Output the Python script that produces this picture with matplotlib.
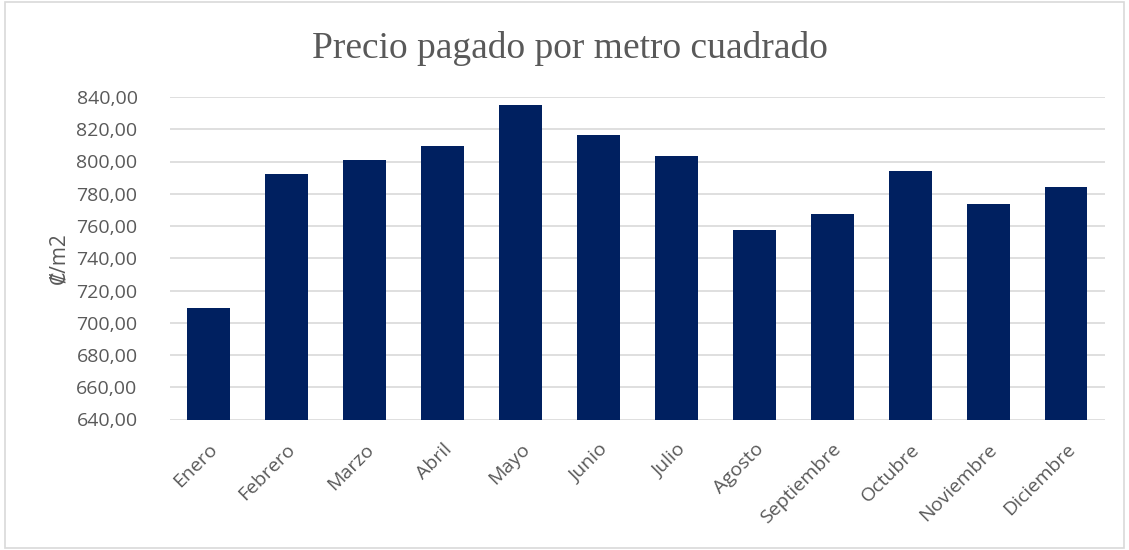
import matplotlib
matplotlib.use("Agg")
import matplotlib.pyplot as plt
from matplotlib.ticker import FuncFormatter
from matplotlib.patches import Rectangle

# Datos del grafico
meses = ['Enero', 'Febrero', 'Marzo', 'Abril', 'Mayo', 'Junio', 'Julio',
         'Agosto', 'Septiembre', 'Octubre', 'Noviembre', 'Diciembre']
precio = [709.0, 792.0, 800.8, 809.5, 834.8, 816.5, 803.5,
          757.4, 767.3, 794.0, 773.8, 784.0]
ticks_y = list(range(640, 841, 20))

gris = '#595959'
azul = '#002060'

fig = plt.figure(figsize=(11.29, 5.5), dpi=100)
ax = fig.add_axes([169.5 / 1129, 1 - 419.5 / 550, 935.5 / 1129, 322.5 / 550])

ax.bar(range(len(meses)), precio, width=0.55, color=azul, zorder=3)
ax.set_xlim(-0.5, len(meses) - 0.5)
ax.set_ylim(640, 840)
ax.set_yticks(ticks_y)
ax.yaxis.set_major_formatter(FuncFormatter(lambda v, p: f'{v:.2f}'.replace('.', ',')))
ax.set_xticks(range(len(meses)))
ax.set_xticklabels(meses, rotation=45, ha='right', rotation_mode='anchor')

for s in ax.spines.values():
    s.set_visible(False)
ax.grid(axis='y', color='#d9d9d9', linewidth=1.2, zorder=0)
ax.tick_params(length=0, colors=gris, labelsize=14)
ax.tick_params(axis='x', pad=15)
ax.tick_params(axis='y', pad=23)
for lbl in ax.get_xticklabels() + ax.get_yticklabels():
    lbl.set_family(['Open Sans', 'DejaVu Sans'])

ax.set_ylabel('₡/m2', color=gris, fontsize=15, family=['Open Sans', 'DejaVu Sans'], labelpad=5)
fig.text(570 / 1129, 1 - 49 / 550, 'Precio pagado por metro cuadrado', ha='center', va='center',
         fontsize=27, color=gris, family='Liberation Serif')

# borde del area del grafico
fig.patches.append(Rectangle((0.004, 0.004), 0.992, 0.992, transform=fig.transFigure,
                             fill=False, edgecolor='#d9d9d9', linewidth=1.2))

fig.savefig('out.png', dpi=100)
